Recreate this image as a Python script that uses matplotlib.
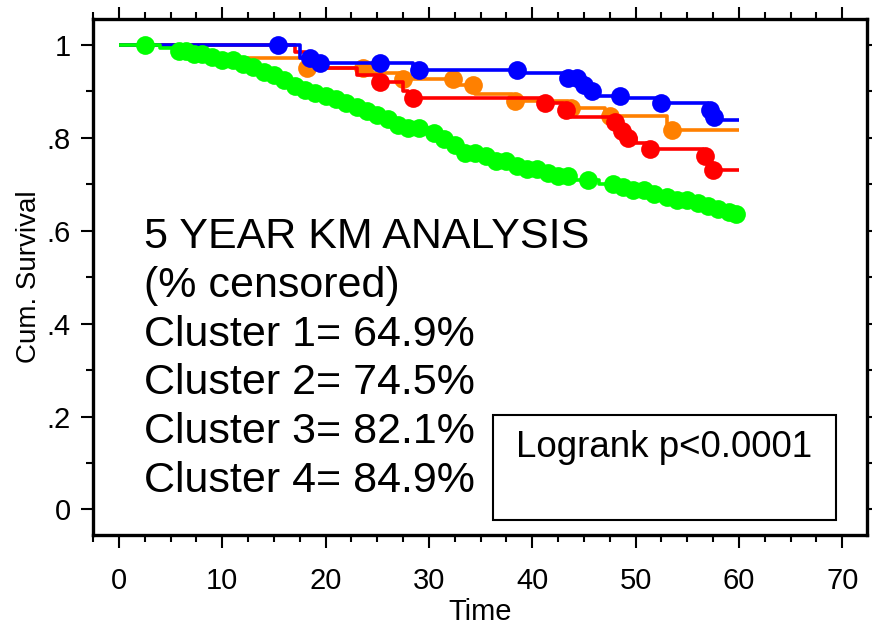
import numpy as np
import matplotlib
matplotlib.use("Agg")
import matplotlib.pyplot as plt
from matplotlib.patches import Rectangle
from matplotlib.ticker import MultipleLocator

# step curves: (time, survival)
green_t = [0, 4.0, 5.5, 7.0, 8.5, 10.0, 11.5, 12.5, 13.5, 14.5, 15.5, 16.5, 17.5,
           18.5, 19.5, 20.5, 21.5, 22.5, 23.5, 24.5, 25.5, 26.5, 27.5, 30.3, 31.0,
           31.8, 32.6, 33.5, 35.0, 36.5, 38.0, 39.5, 41.0, 42.5, 44.0, 46.5, 48.0,
           49.5, 51.0, 52.5, 54.0, 55.5, 57.0, 58.0, 59.0, 59.7]
green_s = [1.0, 0.993, 0.987, 0.98, 0.975, 0.968, 0.96, 0.952, 0.943, 0.935, 0.925,
           0.912, 0.903, 0.897, 0.891, 0.884, 0.876, 0.866, 0.858, 0.85, 0.84, 0.828,
           0.822, 0.81, 0.797, 0.785, 0.775, 0.768, 0.76, 0.75, 0.74, 0.732, 0.725,
           0.718, 0.71, 0.70, 0.695, 0.687, 0.679, 0.672, 0.666, 0.66, 0.653, 0.646,
           0.64, 0.636]
green_cens = [2.5, 5.8, 6.5, 7.3, 8.0, 9.0, 10.0, 11.0, 12.0, 13.0, 14.0, 15.0, 16.0,
              17.0, 18.0, 19.0, 20.0, 21.0, 22.0, 23.0, 24.0, 25.0, 26.0, 27.0, 28.0,
              29.0, 30.5, 31.5, 32.5, 33.5, 34.5, 35.5, 36.5, 37.5, 38.5, 39.5, 40.5,
              41.5, 42.5, 43.5, 45.4, 47.8, 48.8, 49.8, 50.8, 51.8, 53.0, 54.0, 55.0,
              56.0, 57.0, 58.0, 59.0, 59.7]

orange_t = [0, 8.3, 18.0, 24.5, 27.5, 32.5, 34.5, 38.0, 43.5, 47.0, 53.0, 53.5]
orange_s = [1.0, 0.972, 0.95, 0.94, 0.926, 0.915, 0.895, 0.88, 0.865, 0.848, 0.83, 0.816]
orange_cens = [18.2, 23.6, 27.5, 32.3, 34.3, 38.3, 43.8, 47.5, 53.5]

red_t = [0, 17.0, 18.0, 20.0, 23.0, 25.0, 27.5, 28.0, 41.0, 43.0, 43.8, 48.0, 48.5,
         49.0, 50.0, 51.3, 56.5, 57.0, 57.5]
red_s = [1.0, 0.985, 0.965, 0.95, 0.935, 0.92, 0.9, 0.885, 0.875, 0.86, 0.845, 0.835,
         0.815, 0.8, 0.79, 0.777, 0.76, 0.745, 0.73]
red_cens = [25.3, 28.5, 41.2, 43.3, 48.0, 48.7, 49.3, 51.4, 56.7, 57.5]

blue_t = [0, 17.5, 19.0, 28.5, 39.0, 43.5, 44.5, 45.5, 46.5, 49.0, 52.0, 57.0, 57.5, 58.0]
blue_s = [1.0, 0.972, 0.962, 0.946, 0.94, 0.928, 0.915, 0.9, 0.89, 0.885, 0.876, 0.86,
          0.845, 0.838]
blue_cens = [15.4, 18.5, 19.5, 25.3, 29.0, 38.5, 43.5, 44.3, 45.0, 45.8, 48.5, 52.5,
             57.2, 57.6]

t_end = 60

notes = ["5 YEAR KM ANALYSIS", "(% censored)", "Cluster 1= 64.9%", "Cluster 2= 74.5%",
         "Cluster 3= 82.1%", "Cluster 4= 84.9%"]
logrank = "Logrank p<0.0001"

x_ticks = [0, 10, 20, 30, 40, 50, 60, 70]
y_ticks = [0, 0.2, 0.4, 0.6, 0.8, 1.0]
y_ticklabels = ["0", ".2", ".4", ".6", ".8", "1"]

narrow = ["Liberation Sans Narrow", "DejaVu Sans Condensed", "Liberation Sans",
          "DejaVu Sans"]
plt.rcParams["font.family"] = ["Liberation Sans", "DejaVu Sans"]

fig = plt.figure(figsize=(8.72, 6.30), dpi=100)
ax = fig.add_axes([0.1067, 0.1508, 0.8876, 0.819])


def km(ax, t, s, cens, color):
    t = np.asarray(t + [t_end])
    s = np.asarray(s + [s[-1]])
    ax.step(t, s, where="post", color=color, lw=2.6, solid_capstyle="butt")
    c = np.asarray(cens)
    idx = np.searchsorted(t, c, side="right") - 1
    ax.plot(c, s[idx], "o", color=color, ms=13.5, mec="none")


km(ax, orange_t, orange_s, orange_cens, "#ff8000")
km(ax, red_t, red_s, red_cens, "#ff0000")
km(ax, blue_t, blue_s, blue_cens, "#0000ff")
km(ax, green_t, green_s, green_cens, "#00ff00")

ax.set_xlim(-2.5, 72.4)
ax.set_ylim(-0.055, 1.056)
ax.set_xticks(x_ticks)
ax.set_yticks(y_ticks)
ax.set_yticklabels(y_ticklabels)
ax.xaxis.set_minor_locator(MultipleLocator(2.5))
ax.yaxis.set_minor_locator(MultipleLocator(0.1))
ax.tick_params(which="both", direction="out", top=True, right=True, width=1.5,
               color="black")
ax.tick_params(which="major", length=9, labelsize=21)
ax.tick_params(axis="x", which="major", pad=14)
ax.tick_params(axis="y", which="major", pad=7)
ax.tick_params(which="minor", length=5)
for lab in ax.get_xticklabels() + ax.get_yticklabels():
    lab.set_family(narrow)
for sp in ax.spines.values():
    sp.set_linewidth(2.4)

ax.set_xlabel("Time", fontsize=21, family=narrow, labelpad=2)
ax.set_ylabel("Cum. Survival", fontsize=20, family=narrow, labelpad=3)

# one text per line so the lines keep their own extents
for i, line in enumerate(notes):
    ax.text(0.066, 0.556 - i * 0.0944, line, transform=ax.transAxes, fontsize=31,
            ha="left", va="baseline")

box = Rectangle((0.517, 0.029), 0.443, 0.204, transform=ax.transAxes,
                fill=False, ec="black", lw=1.5)
ax.add_patch(box)
ax.text(0.738, 0.17, logrank, transform=ax.transAxes, fontsize=26.5,
        ha="center", va="center")

fig.savefig("out.png", dpi=100)
